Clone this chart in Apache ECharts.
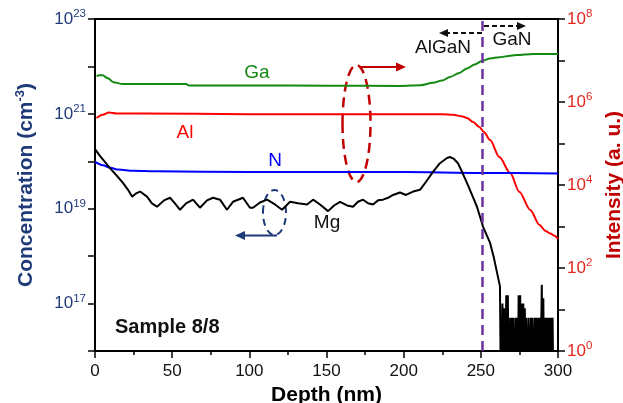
<!DOCTYPE html>
<html>
<head>
<meta charset="utf-8">
<script src="https://cdn.jsdelivr.net/npm/echarts@6/dist/echarts.min.js"></script>
<style>
html,body{margin:0;padding:0;background:#fff;}
#chart{width:623px;height:403px;}
</style>
</head>
<body>
<div id="chart"></div>
<script>
// ---------- data ----------
const gaDepth = [1, 3, 5, 8, 12, 18, 40, 59, 61, 100, 150, 198, 211, 219, 225, 230, 236, 241, 246, 251, 256, 262, 268, 273, 284, 300];
const gaInt = [4.2e6, 4.4e6, 4.4e6, 3.8e6, 3.0e6, 2.7e6, 2.7e6, 2.7e6, 2.5e6, 2.5e6, 2.47e6, 2.44e6, 2.55e6, 2.9e6, 3.3e6, 4.0e6, 5.0e6, 6.4e6, 8.0e6, 9.8e6, 1.12e7, 1.2e7, 1.28e7, 1.35e7, 1.44e7, 1.44e7];

const alDepth = [1, 5, 9, 14, 30, 100, 200, 225, 232, 238, 241, 245, 249, 252, 256, 262, 269, 275, 282, 288, 292, 295, 298, 300];
const alInt = [4.1e5, 4.9e5, 5.6e5, 5.3e5, 5.3e5, 5.1e5, 5.1e5, 5.1e5, 4.9e5, 4.5e5, 4.1e5, 3.3e5, 2.5e5, 1.9e5, 1.21e5, 4.7e4, 1.95e4, 6.8e3, 2.5e3, 1.09e3, 7.8e2, 6.8e2, 5.9e2, 5.0e2];

const nDepth = [0, 5, 10, 15, 25, 40, 100, 200, 250, 300];
const nInt = [3.6e4, 3.0e4, 2.6e4, 2.35e4, 2.2e4, 2.13e4, 2.05e4, 2.05e4, 1.95e4, 1.9e4];

const mgDepth = [0, 3.2, 9.7, 14.3, 18.1, 21.4, 24.0, 26.6, 29.2, 33.7, 36.9, 40.2, 44.7, 48.6, 51.8, 55.1, 59.0, 63.5, 68.0, 72.6, 76.5, 81.0, 85.5, 89.4, 95.9, 100.4, 102.4, 106.9, 111.5, 116.6, 121.2, 126.4, 131.5, 137.4, 141.3, 145.8, 151.0, 154.9, 158.8, 163.3, 167.2, 170.4, 173.7, 176.9, 180.1, 183.4, 186.6, 189.9, 193.1, 197.6, 201.5, 206.1, 210.6, 214.5, 219.0, 223.5, 228.1, 230.0, 232.6, 235.2, 237.8, 241.0, 244.3, 247.5, 251.4, 256.0, 258.5, 260.5, 262.4];
const mgConc = [1.8e20, 1.3e20, 7.2e19, 4.9e19, 3.5e19, 2.5e19, 1.8e19, 2.1e19, 2.3e19, 1.8e19, 1.3e19, 1.1e19, 1.5e19, 1.7e19, 1.3e19, 9.5e18, 1.3e19, 1.55e19, 1.05e19, 1.5e19, 1.7e19, 1.55e19, 9.5e18, 1.4e19, 1.7e19, 1.05e19, 1.05e19, 1.35e19, 1.55e19, 1.23e19, 9.5e18, 1.4e19, 1.3e19, 1.23e19, 1.55e19, 1.23e19, 8.9e18, 1.17e19, 1.4e19, 1.17e19, 1.1e19, 1.4e19, 1.55e19, 1.3e19, 1.23e19, 1.5e19, 1.55e19, 1.7e19, 1.95e19, 2.2e19, 1.95e19, 2.3e19, 2.5e19, 3.7e19, 6e19, 9.1e19, 1.17e20, 1.23e20, 1.12e20, 9.1e19, 6e19, 3.5e19, 1.95e19, 1.1e19, 4.2e18, 1.9e18, 9.1e17, 4.5e17, 2.3e17];

// noise floor of Mg (below detection limit)
const mgNoiseDepth = [263, 263.5, 264, 264.5, 265, 265.5, 266, 266.5, 267, 267.5, 268, 268.5, 269, 269.5, 270, 270.5, 271, 271.5, 272, 272.5, 273, 273.5, 274, 274.5, 275, 275.5, 276, 276.5, 277, 277.5, 278, 278.5, 279, 279.5, 280, 280.5, 281, 281.5, 282, 282.5, 283, 283.5, 284, 284.5, 285, 285.5, 286, 286.5, 287, 287.5, 288, 288.5, 289, 289.5, 290, 290.5, 291, 291.5, 292, 292.5, 293, 293.5, 294, 294.5, 295, 295.5, 296, 296.5, 297];
const mgNoise = [1e15, 1e15, 1e17, 1e15, 8e16, 1e15, 1e15, 1.5e17, 1e15, 1.5e17, 1e15, 1e15, 5e16, 1e15, 5e16, 1e15, 5e16, 1e15, 1e15, 5e16, 1e15, 5e16, 1e15, 1.5e17, 1e15, 1.5e17, 1e15, 1e17, 1e15, 1e17, 1e15, 8e16, 1e15, 5e16, 1e15, 1e15, 5e16, 1e15, 1e15, 5e16, 1e15, 5e16, 1e15, 1e15, 5e16, 1e15, 5e16, 1e15, 5e16, 1e15, 5e16, 1e15, 1e15, 2.5e17, 1e15, 1.3e17, 1e15, 5e16, 1e15, 5e16, 1e15, 5e16, 1e15, 5e16, 1e15, 5e16, 1e15, 5e16, 1e15];

const interfaceDepth = 251;

// ---------- build ----------
const zip = (xs, ys) => xs.map((x, i) => [x, ys[i]]);
const mgData = zip(mgDepth, mgConc).concat(zip(mgNoiseDepth, mgNoise));

const FONT = 'Liberation Sans, Arial, Helvetica, sans-serif';
const NAVY = '#1f3a78';
const RED_LBL = '#e3261f';
const RED_TTL = '#c00000';

const expOf = v => Math.round(Math.log10(v));

const chart = echarts.init(document.getElementById('chart'), null, {renderer: 'canvas'});

const option = {
  animation: false,
  backgroundColor: '#fff',
  grid: {left: 95, right: 65, top: 19, bottom: 52, show: true, borderColor: '#000', borderWidth: 2, backgroundColor: 'transparent', containLabel: false, outerBoundsMode: 'none'},
  xAxis: {
    type: 'value', min: 0, max: 300, interval: 50,
    axisLine: {show: true, lineStyle: {color: '#000', width: 2}},
    axisTick: {show: true, length: 7, lineStyle: {color: '#000', width: 1.5}},
    minorTick: {show: true, splitNumber: 2, length: 4, lineStyle: {color: '#000', width: 1.5}},
    splitLine: {show: false},
    axisLabel: {color: '#111', fontSize: 17, fontFamily: FONT, margin: 12},
    name: 'Depth (nm)', nameLocation: 'middle', nameGap: 27,
    nameTextStyle: {color: '#000', fontSize: 21, fontWeight: 'bold', fontFamily: FONT}
  },
  yAxis: [
    {
      type: 'log', logBase: 10, min: 1e16, max: 1e23, interval: 1, position: 'left',
      axisLine: {show: true, lineStyle: {color: '#000', width: 2}},
      axisTick: {show: true, length: 7, lineStyle: {color: '#000', width: 1.5}},
      splitLine: {show: false}, minorTick: {show: false},
      axisLabel: {
        margin: 9,
        formatter: v => { const e = expOf(v); return (e % 2 !== 0) ? '{b|10}{s|' + e + '}' : ''; },
        rich: {
          b: {fontSize: 17, color: NAVY, fontFamily: FONT, lineHeight: 22},
          s: {fontSize: 11.5, color: NAVY, fontFamily: FONT, verticalAlign: 'top', lineHeight: 12}
        }
      },
      name: '{t|Concentration (cm}{s|-3}{t|)}', nameLocation: 'middle', nameGap: 57, nameRotate: 90,
      nameTextStyle: {
        rich: {
          t: {fontSize: 21, fontWeight: 'bold', color: NAVY, fontFamily: FONT, lineHeight: 24},
          s: {fontSize: 13, fontWeight: 'bold', color: NAVY, fontFamily: FONT, verticalAlign: 'top', lineHeight: 13}
        }
      }
    },
    {
      type: 'log', logBase: 10, min: 1, max: 1e8, interval: 1, position: 'right',
      axisLine: {show: true, lineStyle: {color: '#000', width: 2}},
      axisTick: {show: true, length: 7, lineStyle: {color: '#000', width: 1.5}},
      splitLine: {show: false}, minorTick: {show: false},
      axisLabel: {
        margin: 9,
        formatter: v => { const e = expOf(v); return (e % 2 === 0) ? '{b|10}{s|' + e + '}' : ''; },
        rich: {
          b: {fontSize: 17, color: RED_LBL, fontFamily: FONT, lineHeight: 22},
          s: {fontSize: 11.5, color: RED_LBL, fontFamily: FONT, verticalAlign: 'top', lineHeight: 12}
        }
      },
      name: 'Intensity (a. u.)', nameLocation: 'middle', nameGap: 44, nameRotate: 90,
      nameTextStyle: {color: RED_TTL, fontSize: 21, fontWeight: 'bold', fontFamily: FONT}
    }
  ],
  series: [
    {
      name: 'Ga', type: 'line', yAxisIndex: 1, data: zip(gaDepth, gaInt), showSymbol: false,
      smooth: 0.3, smoothMonotone: 'x',
      lineStyle: {color: '#138a13', width: 2}, z: 3
    },
    {
      name: 'Al', type: 'line', yAxisIndex: 1, data: zip(alDepth, alInt), showSymbol: false,
      smooth: 0.3, smoothMonotone: 'x',
      lineStyle: {color: '#ff0000', width: 2}, z: 3
    },
    {
      name: 'N', type: 'line', yAxisIndex: 1, data: zip(nDepth, nInt), showSymbol: false,
      smooth: 0.3, smoothMonotone: 'x',
      lineStyle: {color: '#0000ff', width: 2}, z: 3
    },
    {
      name: 'Mg', type: 'line', yAxisIndex: 0, data: mgData, showSymbol: false, clip: true,
      lineStyle: {color: '#000', width: 2}, z: 4,
      markLine: {
        silent: true, symbol: ['none', 'none'], label: {show: false},
        lineStyle: {color: '#7030a0', type: [10, 6], width: 2.5},
        data: [{xAxis: interfaceDepth}]
      }
    }
  ],
  graphic: [
    {type: 'text', x: 257, y: 73, style: {text: 'Ga', fill: '#138a13', font: '19px ' + FONT, textAlign: 'center', textVerticalAlign: 'middle'}},
    {type: 'text', x: 185, y: 133, style: {text: 'Al', fill: '#ff0000', font: '19px ' + FONT, textAlign: 'center', textVerticalAlign: 'middle'}},
    {type: 'text', x: 275, y: 161, style: {text: 'N', fill: '#0000ff', font: '19px ' + FONT, textAlign: 'center', textVerticalAlign: 'middle'}},
    {type: 'text', x: 327, y: 223, style: {text: 'Mg', fill: '#111', font: '19px ' + FONT, textAlign: 'center', textVerticalAlign: 'middle'}},
    {type: 'text', x: 443, y: 48, style: {text: 'AlGaN', fill: '#111', font: '19px ' + FONT, textAlign: 'center', textVerticalAlign: 'middle'}},
    {type: 'text', x: 512, y: 40, style: {text: 'GaN', fill: '#111', font: '19px ' + FONT, textAlign: 'center', textVerticalAlign: 'middle'}},
    {type: 'text', x: 115, y: 327, style: {text: 'Sample 8/8', fill: '#111', font: 'bold 20px ' + FONT, textAlign: 'left', textVerticalAlign: 'middle'}},
    // AlGaN / GaN arrows
    {type: 'line', shape: {x1: 482, y1: 33, x2: 446, y2: 33}, style: {stroke: '#111', lineWidth: 1.8, lineDash: [5, 3]}},
    {type: 'polygon', shape: {points: [[439, 33], [448, 29], [448, 37]]}, style: {fill: '#111'}},
    {type: 'line', shape: {x1: 484, y1: 26, x2: 518, y2: 26}, style: {stroke: '#111', lineWidth: 1.8, lineDash: [5, 3]}},
    {type: 'polygon', shape: {points: [[526, 26], [517, 22], [517, 30]]}, style: {fill: '#111'}},
    // red ellipse + arrow
    {type: 'ellipse', shape: {cx: 356.5, cy: 123.5, rx: 14, ry: 58.5}, style: {fill: 'none', stroke: '#c00000', lineWidth: 2.5, lineDash: [10, 6]}},
    {type: 'line', shape: {x1: 359, y1: 67, x2: 398, y2: 67}, style: {stroke: '#c00000', lineWidth: 2}},
    {type: 'polygon', shape: {points: [[406, 67], [396, 62.5], [396, 71.5]]}, style: {fill: '#c00000'}},
    // navy ellipse + arrow
    {type: 'ellipse', shape: {cx: 274.5, cy: 212.5, rx: 11.5, ry: 22.5}, style: {fill: 'none', stroke: NAVY, lineWidth: 2, lineDash: [7, 5]}},
    {type: 'line', shape: {x1: 277, y1: 235.5, x2: 243, y2: 235.5}, style: {stroke: NAVY, lineWidth: 2}},
    {type: 'polygon', shape: {points: [[235, 235.5], [245, 231], [245, 240]]}, style: {fill: NAVY}}
  ]
};
chart.setOption(option);
</script>
</body>
</html>
